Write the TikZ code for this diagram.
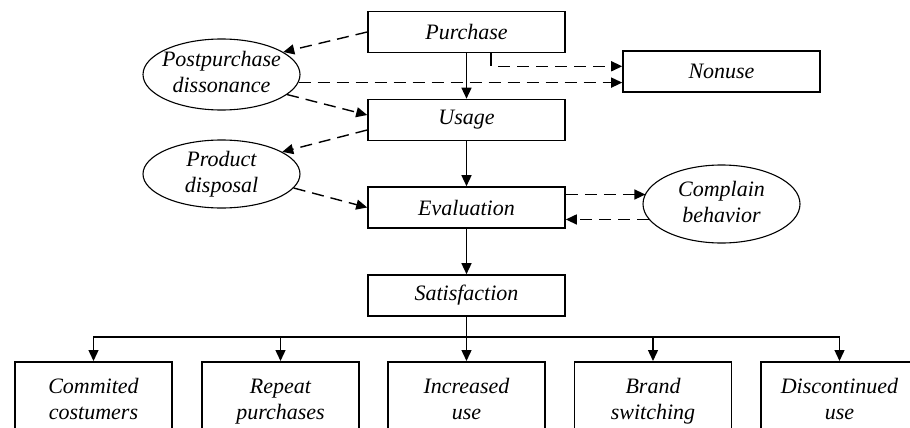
\documentclass[tikz,border=0pt]{standalone}
\usepackage{fontspec}
\setmainfont{Liberation Serif}
\usetikzlibrary{shapes.geometric,arrows.meta}
\begin{document}
\begin{tikzpicture}[x=1pt,y=-1pt,
  font=\fontsize{22}{26}\selectfont\itshape,
  box/.style={draw,line width=1.6pt,rectangle,minimum width=197pt,minimum height=41pt,inner sep=0pt},
  outbox/.style={draw,line width=1.6pt,rectangle,minimum width=157pt,minimum height=78pt,inner sep=0pt,anchor=north,align=center},
  oval/.style={draw,line width=1.1pt,ellipse,minimum width=157pt,inner sep=-15pt,align=center},
  flow/.style={line width=1.4pt,-{Triangle[length=11pt,width=10pt]}},
  side/.style={flow,dash pattern=on 12pt off 7pt}]
\useasboundingbox (0,0) rectangle (910,428);
\clip (0,0) rectangle (910,428);

% main process column
\node[box] (pur) at (466.5,32) {Purchase};
\node[box] (use) at (466.5,120) {Usage};
\node[box] (eva) at (466.5,207.5) {Evaluation};
\node[box] (sat) at (466.5,295.5) {Satisfaction};
\node[box] (non) at (721.5,71.5) {Nonuse};

% side effects
\node[oval,minimum height=71pt] (post) at (221.5,74.5) {Postpurchase\strut\\dissonance\strut};
\node[oval,minimum height=68pt] (disp) at (221.5,174) {Product\strut\\disposal\strut};
\node[oval,minimum height=78pt] (comp) at (721.5,204) {Complain\strut\\behavior\strut};

% outcomes
\node[outbox] (b1) at (93.5,361) {Commited\strut\\costumers\strut};
\node[outbox] (b2) at (280.5,361) {Repeat\strut\\purchases\strut};
\node[outbox] (b3) at (466.5,361) {Increased\strut\\use\strut};
\node[outbox] (b4) at (653,361) {Brand\strut\\switching\strut};
\node[outbox] (b5) at (839.5,361) {Discontinued\strut\\use\strut};

% solid flow
\draw[flow] (pur) -- (use);
\draw[flow] (use) -- (eva);
\draw[flow] (eva) -- (sat);
\coordinate (bus) at (466.5,337);
\draw[line width=1.6pt] (sat.south) -- (bus);
\foreach \b in {b1,b2,b3,b4,b5}
  \draw[flow] (bus) -| (\b.north);

% dashed links
\draw[side] (pur.west) -- (post.20);
\draw[side] (post.-17) -- ([yshift=5pt]use.west);
\draw[side] ([yshift=-10pt]use.west) -- (disp.20);
\draw[side] (disp.-11) -- (eva.west);
\draw[side] (post.-6) -- (post.-6 -| non.west);
\coordinate (tap) at ([xshift=24.5pt]pur.south);
\coordinate (knee) at ([yshift=-13pt]tap);
\draw[line width=1.4pt] (tap) -- (knee);
\draw[side] ([xshift=7pt]knee) -- (knee -| non.west);
\draw[side] ([yshift=13pt]eva.east) -- ([yshift=13pt]eva.east -| comp.172);
\draw[side] (comp.-168) -- (comp.-168 -| eva.east);
\end{tikzpicture}
\end{document}
